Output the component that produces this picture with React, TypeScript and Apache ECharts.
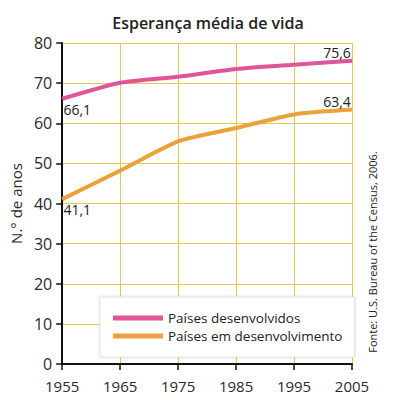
import React, { useEffect, useRef } from "react";
import * as echarts from "echarts";

const title = "Esperança média de vida";
const years = ["1955", "1965", "1975", "1985", "1995", "2005"];
const developedName = "Países desenvolvidos";
const developingName = "Países em desenvolvimento";
const developed = [66.1, 70.1, 71.6, 73.5, 74.6, 75.6];
const developing = [41.1, 48.2, 55.5, 58.8, 62.2, 63.4];
const yAxisName = "N.° de anos";
const source = "Fonte: U.S. Bureau of the Census, 2006.";

const FONT = "'Open Sans', 'Noto Sans', sans-serif";
const fmt = (v: number) => v.toFixed(1).replace(".", ",");

function withLabels(values: number[]) {
  const last = values.length - 1;
  return values.map((v, i) => {
    if (i === 0) {
      return {
        value: v,
        label: { show: true, position: "bottom", offset: [15, -2] },
      };
    }
    if (i === last) {
      return {
        value: v,
        label: { show: true, position: "top", offset: [-15, 4] },
      };
    }
    return { value: v, label: { show: false } };
  });
}

export default function App() {
  const ref = useRef<HTMLDivElement>(null);
  useEffect(() => {
    if (!ref.current) return;
    const chart = echarts.init(ref.current, undefined, { renderer: "svg" });
    const labelStyle = {
      fontFamily: FONT,
      fontSize: 14,
      color: "#222",
      formatter: (p: any) => fmt(p.value),
    };
    chart.setOption({
      animation: false,
      backgroundColor: "#fff",
      title: {
        text: title,
        left: 203,
        top: 10,
        textAlign: "center",
        textStyle: {
          fontFamily: FONT,
          fontSize: 16,
          fontWeight: 600,
          color: "#222",
        },
      },
      grid: { left: 57, right: 41, top: 43, bottom: 36 },
      legend: {
        left: 100,
        top: 297,
        orient: "vertical",
        backgroundColor: "#fff",
        borderColor: "#e2e2e2",
        borderWidth: 1,
        shadowColor: "rgba(0,0,0,0.15)",
        shadowBlur: 3,
        padding: [14, 12, 14, 13],
        itemGap: 4,
        itemWidth: 50,
        itemHeight: 5,
        icon: "rect",
        textStyle: {
          fontFamily: FONT,
          fontSize: 13.5,
          lineHeight: 14,
          color: "#222",
        },
        data: [developedName, developingName],
      },
      xAxis: {
        type: "category",
        data: years,
        boundaryGap: false,
        axisLine: { lineStyle: { color: "#111", width: 2 } },
        axisTick: { show: true, length: 6, lineStyle: { color: "#111", width: 1.5 } },
        axisLabel: {
          fontFamily: FONT,
          fontSize: 15,
          color: "#2a2a2a",
          margin: 14,
        },
        splitLine: { show: true, lineStyle: { color: "#e8c84c", width: 1 } },
      },
      yAxis: {
        type: "value",
        min: 0,
        max: 80,
        interval: 10,
        name: yAxisName,
        nameLocation: "middle",
        nameGap: 39,
        nameTextStyle: { fontFamily: FONT, fontSize: 15, color: "#2a2a2a" },
        axisLine: { show: true, lineStyle: { color: "#111", width: 2 } },
        axisTick: { show: true, length: 6, lineStyle: { color: "#111", width: 1.5 } },
        axisLabel: {
          fontFamily: FONT,
          fontSize: 16,
          color: "#2a2a2a",
          margin: 10,
        },
        splitLine: { show: true, lineStyle: { color: "#e8c84c", width: 1 } },
      },
      graphic: [
        {
          type: "text",
          x: 372,
          y: 252,
          rotation: Math.PI / 2,
          style: {
            text: source,
            fontFamily: FONT,
            fontSize: 11,
            fill: "#222",
            textAlign: "center",
            textVerticalAlign: "middle",
          },
        },
      ],
      series: [
        {
          name: developedName,
          type: "line",
          data: withLabels(developed),
          smooth: 0.2,
          symbol: "circle",
          symbolSize: 1,
          lineStyle: { color: "#e0549a", width: 4 },
          itemStyle: { color: "#e0549a" },
          label: labelStyle,
          z: 3,
        },
        {
          name: developingName,
          type: "line",
          data: withLabels(developing),
          smooth: 0.2,
          symbol: "circle",
          symbolSize: 1,
          lineStyle: { color: "#eda13c", width: 4 },
          itemStyle: { color: "#eda13c" },
          label: labelStyle,
          z: 3,
        },
      ],
    });
    return () => chart.dispose();
  }, []);
  return (
    <div
      ref={ref}
      style={{ position: "fixed", left: 0, top: 0, width: 393, height: 400 }}
    />
  );
}
